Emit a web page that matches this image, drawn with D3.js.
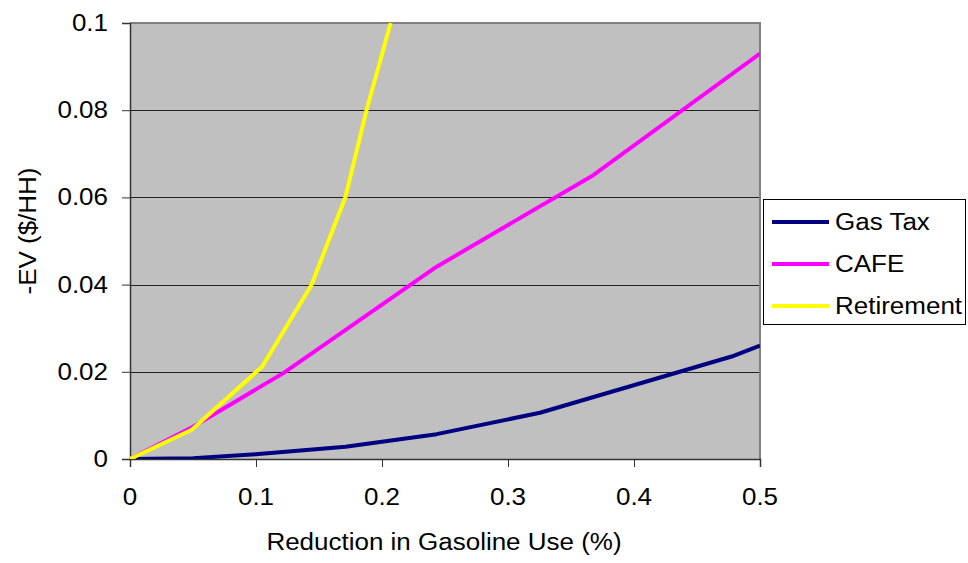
<!DOCTYPE html>
<html><head><meta charset="utf-8">
<script src="https://cdn.jsdelivr.net/npm/d3@7/dist/d3.min.js"></script>
<style>body{margin:0;background:#fff;}svg{display:block;font-family:Arial,"Liberation Sans",sans-serif;}</style>
</head><body>
<svg id="chart" width="968" height="563"></svg>
<script>
const seriesNames = ["Gas Tax", "CAFE", "Retirement"];
const seriesColors = ["#000080", "#FF00FF", "#FFFF00"];
const gasTaxX = [0, 0.05, 0.0997, 0.171, 0.2434, 0.3254, 0.4775, 0.5];
const gasTaxY = [0, 0.0002, 0.0011, 0.0028, 0.0057, 0.0106, 0.0235, 0.026];
const cafeX = [0, 0.05, 0.1217, 0.2434, 0.3677, 0.5];
const cafeY = [0, 0.0074, 0.0197, 0.0441, 0.0651, 0.093];
const retireX = [0, 0.049, 0.105, 0.144, 0.171, 0.1877, 0.2069];
const retireY = [0, 0.0067, 0.0212, 0.0399, 0.0601, 0.08, 0.1];
const xTicks = [0, 0.1, 0.2, 0.3, 0.4, 0.5];
const yTicks = [0, 0.02, 0.04, 0.06, 0.08, 0.1];
const xTitle = "Reduction in Gasoline Use (%)";
const yTitle = "-EV ($/HH)";

const series = [
  {name: seriesNames[0], color: seriesColors[0], pts: gasTaxX.map((x,i)=>[x, gasTaxY[i]])},
  {name: seriesNames[1], color: seriesColors[1], pts: cafeX.map((x,i)=>[x, cafeY[i]])},
  {name: seriesNames[2], color: seriesColors[2], pts: retireX.map((x,i)=>[x, retireY[i]])}
];

const svg = d3.select("#chart");
const L = 130, T = 23, W = 630, H = 436;
const x = d3.scaleLinear().domain([0, 0.5]).range([L, L + W]);
const y = d3.scaleLinear().domain([0, 0.1]).range([T + H, T]);
const FS = 23, SX = 1.13;
const fmt = d => String(+d.toFixed(2));

function stext(g, px, py, str, anchor) {
  return g.append("text")
    .attr("transform", `translate(${px},${py}) scale(${SX},1)`)
    .attr("text-anchor", anchor)
    .attr("font-size", FS)
    .attr("fill", "#000")
    .text(str);
}

svg.append("defs").append("clipPath").attr("id", "clip")
  .append("rect").attr("x", L).attr("y", T).attr("width", W).attr("height", H);

svg.append("rect").attr("x", L).attr("y", T).attr("width", W).attr("height", H).attr("fill", "#C0C0C0");

// gridlines
svg.append("g").selectAll("line").data(yTicks.filter(d => d > 0 && d < 0.1)).join("line")
  .attr("x1", L).attr("x2", L + W)
  .attr("y1", d => Math.round(y(d)) + 0.5).attr("y2", d => Math.round(y(d)) + 0.5)
  .attr("stroke", "#222").attr("stroke-width", 1);

// top/right border
svg.append("path")
  .attr("d", `M${L},${T} H${L + W} V${T + H}`)
  .attr("fill", "none").attr("stroke", "#808080").attr("stroke-width", 2);

// axes
const yAxis = d3.axisLeft(y).tickValues(yTicks).tickSize(8).tickFormat("");
const xAxis = d3.axisBottom(x).tickValues(xTicks).tickSize(8).tickFormat("");
const gy = svg.append("g").attr("transform", `translate(${L},0)`).call(yAxis);
const gx = svg.append("g").attr("transform", `translate(0,${T + H})`).call(xAxis);
[gy, gx].forEach(g => {
  g.select(".domain").attr("stroke", "#333").attr("stroke-width", 1.5);
  g.selectAll(".tick line").attr("stroke", "#333").attr("stroke-width", 1);
});

// tick labels
const lab = svg.append("g");
yTicks.forEach(d => stext(lab, 108, y(d) + 8, fmt(d), "end"));
xTicks.forEach(d => stext(lab, x(d), 505, fmt(d), "middle"));

// titles
stext(svg, 444, 550, xTitle, "middle");
svg.append("text")
  .attr("transform", `translate(36,231) rotate(-90) scale(${SX},1)`)
  .attr("text-anchor", "middle").attr("font-size", FS).attr("fill", "#000")
  .text(yTitle);

// lines
const line = d3.line().x(d => x(d[0])).y(d => y(d[1]));
svg.append("g").attr("clip-path", "url(#clip)").selectAll("path").data(series).join("path")
  .attr("d", d => line(d.pts))
  .attr("fill", "none").attr("stroke", d => d.color).attr("stroke-width", 4)
  .attr("stroke-linejoin", "round");

// legend
const lg = svg.append("g");
lg.append("rect").attr("x", 763.5).attr("y", 199.5).attr("width", 202).attr("height", 125)
  .attr("fill", "#fff").attr("stroke", "#000").attr("stroke-width", 1);
const rowY = [222, 264, 306];
series.forEach((s, i) => {
  lg.append("line").attr("x1", 772).attr("x2", 829).attr("y1", rowY[i]).attr("y2", rowY[i])
    .attr("stroke", s.color).attr("stroke-width", 4);
  stext(lg, 835, rowY[i] + 8, s.name, "start");
});
</script>
</body></html>
